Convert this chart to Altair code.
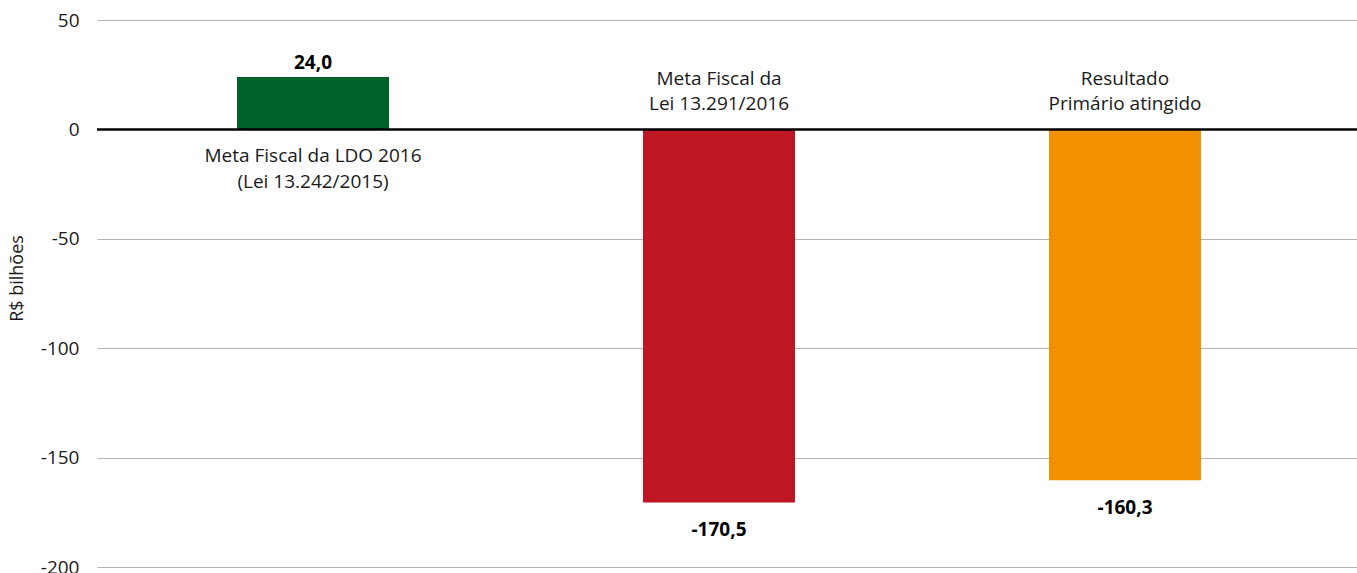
import altair as alt
import pandas as pd

categorias = ["LDO 2016", "Lei 13.291/2016", "Resultado"]
rotulos_categoria = [
    ["Meta Fiscal da LDO 2016", "(Lei 13.242/2015)"],
    ["Meta Fiscal da", "Lei 13.291/2016"],
    ["Resultado", "Primário atingido"],
]
valores = [24.0, -170.5, -160.3]
rotulos_valor = ["24,0", "-170,5", "-160,3"]
cores = ["#00612B", "#BE1724", "#F29100"]
y_ticks = [-200, -150, -100, -50, 0, 50]

df = pd.DataFrame({
    "cat": categorias,
    "valor": valores,
    "rotulo": rotulos_valor,
    "linhas": rotulos_categoria,
})

FONT = "Open Sans"

x = alt.X("cat:N", sort=categorias, axis=None,
          scale=alt.Scale(paddingInner=0.6256, paddingOuter=0.3645, align=0.473))

base = alt.Chart(df)

bars = base.mark_bar().encode(
    x=x,
    y=alt.Y("valor:Q",
            scale=alt.Scale(domain=[-200, 50], nice=False),
            axis=alt.Axis(values=y_ticks, grid=True, domain=False, ticks=False,
                          labelExpr="datum.value < 0 ? '-' + abs(datum.value) : '' + datum.value",
                          labelPadding=18, labelFont=FONT, labelFontSize=19,
                          labelColor="#1a1a1a", gridColor="#B3B3B3", gridWidth=1,
                          title="R$ bilhões", titleFont=FONT, titleFontSize=18,
                          titleFontWeight="normal", titleColor="#1a1a1a",
                          titleX=-80, titleY=258, titleBaseline="middle",
                          titleAngle=270)),
    color=alt.Color("cat:N", sort=categorias,
                    scale=alt.Scale(domain=categorias, range=cores), legend=None),
)

zero = alt.Chart(pd.DataFrame({"z": [0]})).mark_rule(color="#000000", strokeWidth=2.5).encode(
    y=alt.Y("z:Q")
)

val_pos = base.transform_filter("datum.valor >= 0").mark_text(
    font=FONT, fontSize=19, fontWeight="bold", baseline="middle", dy=-14, color="#000000"
).encode(x=x, y="valor:Q", text="rotulo:N")

val_neg = base.transform_filter("datum.valor < 0").mark_text(
    font=FONT, fontSize=19, fontWeight="bold", baseline="middle", dy=28, color="#000000"
).encode(x=x, y="valor:Q", text="rotulo:N")

cat_below = base.transform_filter("datum.valor >= 0").mark_text(
    font=FONT, fontSize=19, baseline="middle", dy=27, lineHeight=26, color="#1a1a1a"
).encode(x=x, y=alt.datum(0), text="linhas")

cat_above = base.transform_filter("datum.valor < 0").mark_text(
    font=FONT, fontSize=19, baseline="middle", dy=-50, lineHeight=25, color="#1a1a1a"
).encode(x=x, y=alt.datum(0), text="linhas")

chart = alt.layer(bars, zero, val_pos, val_neg, cat_below, cat_above).properties(
    width=1260, height=547,
    autosize=alt.AutoSizeParams(type="none"),
    padding={"left": 97, "top": 20, "right": 0, "bottom": 6},
    background="#ffffff",
).configure_view(stroke=None)

chart.save("out.html", embed_options={"renderer": "svg", "actions": False})
